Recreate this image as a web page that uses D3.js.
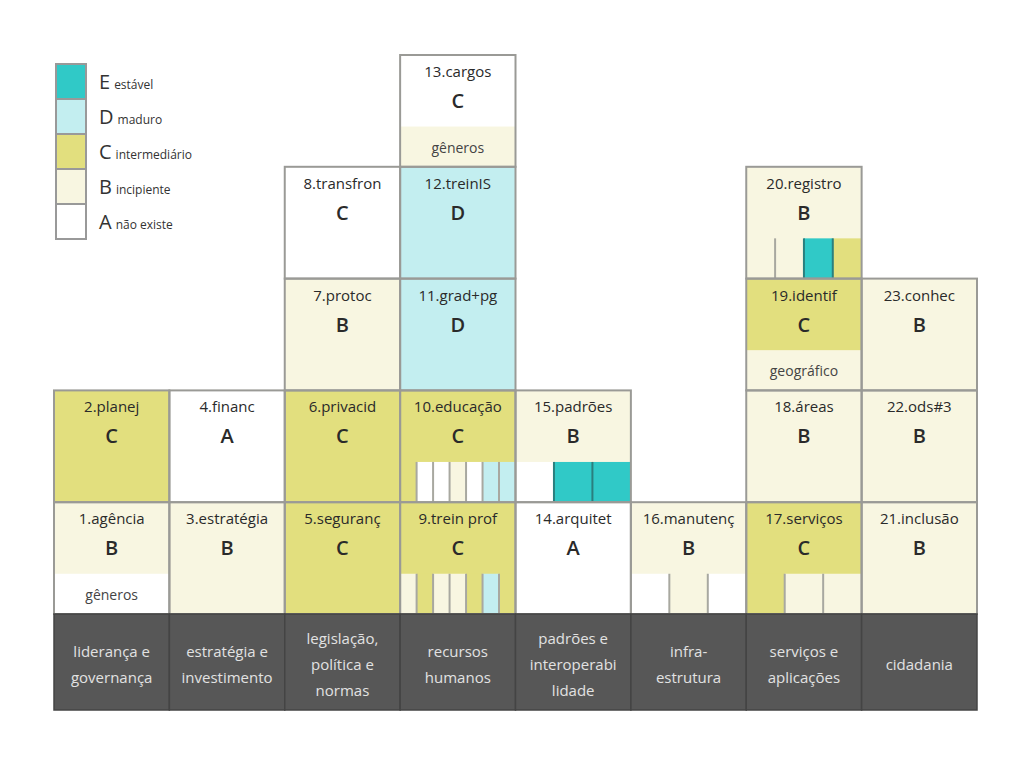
<!DOCTYPE html>
<html><head><meta charset="utf-8">
<script src="https://cdn.jsdelivr.net/npm/d3@7"></script>
<style>body{margin:0;background:#fff}svg{display:block}text{font-family:"Open Sans",sans-serif}</style>
</head><body><svg id="c" width="1024" height="768"></svg>
<script>
// ---- data ----
const categories = [["liderança e","governança"],["estratégia e","investimento"],["legislação,","política e","normas"],["recursos","humanos"],["padrões e","interoperabi","lidade"],["infra-","estrutura"],["serviços e","aplicações"],["cidadania"]];
const levels = ["E","D","C","B","A"];
const levelNames = ["estável","maduro","intermediário","incipiente","não existe"];
const levelColors = ["#30c9c7","#c3eef0","#e2df7e","#f8f6e1","#ffffff"];
const tileLabels = ["1.agência","2.planej","3.estratégia","4.financ","5.seguranç","6.privacid","7.protoc","8.transfron","9.trein prof","10.educação","11.grad+pg","12.treinIS","13.cargos","14.arquitet","15.padrões","16.manutenç","17.serviços","18.áreas","19.identif","20.registro","21.inclusão","22.ods#3","23.conhec"];
const tileColumn = [0,0,1,1,2,2,2,2,3,3,3,3,3,4,4,5,6,6,6,6,7,7,7];
const tileRow    = [0,1,0,1,0,1,2,3,0,1,2,3,4,0,1,0,0,1,2,3,0,1,2];
const tileLevel  = ["B","C","B","A","C","C","B","C","C","C","D","D","C","A","B","B","C","B","C","B","B","B","B"];
const tileFill   = ["B","C","B","A","C","C","B","A","C","C","D","D","A","A","B","B","C","B","C","B","B","B","B"];
// labelled sub-bands: tile index, level, text
const bandTile  = [0,12,18];
const bandLevel = ["A","B","B"];
const bandText  = ["gêneros","gêneros","geográfico"];
// striped sub-bands: tile index, segment levels
const stripeTile = [8,9,14,15,16,19];
const stripeLevels = [["B","C","B","B","C","D","C"],["C","A","A","B","A","D","D"],["A","E","E"],["A","B","A"],["C","B","B"],["B","B","E","C"]];

// ---- scales ----
const svg = d3.select("#c");
const x = d3.scaleBand().domain(d3.range(categories.length)).range([54,977]);
const y = d3.scaleLinear().domain([0,5]).range([614,55]);
const color = d3.scaleOrdinal().domain(levels).range(levelColors);
const rowH = y(0)-y(1);
const subH = rowH*0.36;

// tiles
const g = svg.append("g");
tileLabels.forEach((lab,i)=>{
  const x0 = x(tileColumn[i]), w = x.bandwidth();
  const y0 = y(tileRow[i]+1);
  const tg = g.append("g");
  tg.append("rect").attr("x",x0).attr("y",y0).attr("width",w).attr("height",rowH)
    .attr("fill",color(tileFill[i]));
  const bi = bandTile.indexOf(i);
  if(bi>=0){
    tg.append("rect").attr("x",x0).attr("y",y(tileRow[i])-subH).attr("width",w).attr("height",subH)
      .attr("fill",color(bandLevel[bi]));
    tg.append("text").attr("x",x0+w/2).attr("y",y(tileRow[i])-subH/2+6).attr("text-anchor","middle")
      .attr("font-size",14).attr("fill","#444").text(bandText[bi]);
  }
  const si = stripeTile.indexOf(i);
  if(si>=0){
    const segs = stripeLevels[si];
    const sx = d3.scaleBand().domain(d3.range(segs.length)).range([x0,x0+w]);
    segs.forEach((lv,k)=>{
      tg.append("rect").attr("x",sx(k)).attr("y",y(tileRow[i])-subH).attr("width",sx.bandwidth()).attr("height",subH)
        .attr("fill",color(lv));
      if(k>0) tg.append("line").attr("x1",sx(k)).attr("x2",sx(k)).attr("y1",y(tileRow[i])-subH).attr("y2",y(tileRow[i]))
        .attr("stroke", (lv==="E"||segs[k-1]==="E")?"#2a7f7e":"#a8a8a0").attr("stroke-width",2);
    });
  }
  tg.append("text").attr("x",x0+w/2).attr("y",y0+22).attr("text-anchor","middle")
    .attr("font-size",15).attr("fill","#2a2a2a").text(lab);
  tg.append("text").attr("x",x0+w/2).attr("y",y0+53).attr("text-anchor","middle")
    .attr("font-size",20).attr("font-weight",600).attr("fill","#2a2a2a").text(tileLevel[i]);
});
// tile borders
tileLabels.forEach((lab,i)=>{
  g.append("rect").attr("x",x(tileColumn[i])).attr("y",y(tileRow[i]+1)).attr("width",x.bandwidth()).attr("height",rowH)
    .attr("fill","none").attr("stroke","#9a9a96").attr("stroke-width",2);
});

// bottom category band
const bg = svg.append("g");
categories.forEach((lines,c)=>{
  bg.append("rect").attr("x",x(c)).attr("y",614).attr("width",x.bandwidth()).attr("height",96)
    .attr("fill","#575757").attr("stroke","#444").attr("stroke-width",1.5);
  const cy = 665, lh = 26;
  lines.forEach((t,j)=>{
    bg.append("text").attr("x",x(c)+x.bandwidth()/2).attr("y",cy+(j-(lines.length-1)/2)*lh+5)
      .attr("text-anchor","middle").attr("font-size",15).attr("fill","#e2e2e2").text(t);
  });
});

// legend
const lg = svg.append("g");
const ly = d3.scaleBand().domain(levels).range([64,239]);
levels.forEach((lv,k)=>{
  lg.append("rect").attr("x",56).attr("y",ly(lv)).attr("width",30).attr("height",ly.bandwidth())
    .attr("fill",color(lv)).attr("stroke","#999").attr("stroke-width",2);
  const t = lg.append("text").attr("x",99).attr("y",ly(lv)+ly.bandwidth()/2+7).attr("fill","#333");
  t.append("tspan").attr("font-size",20).text(lv);
  t.append("tspan").attr("font-size",12).attr("dx",4).text(levelNames[k]);
});
</script></body></html>
